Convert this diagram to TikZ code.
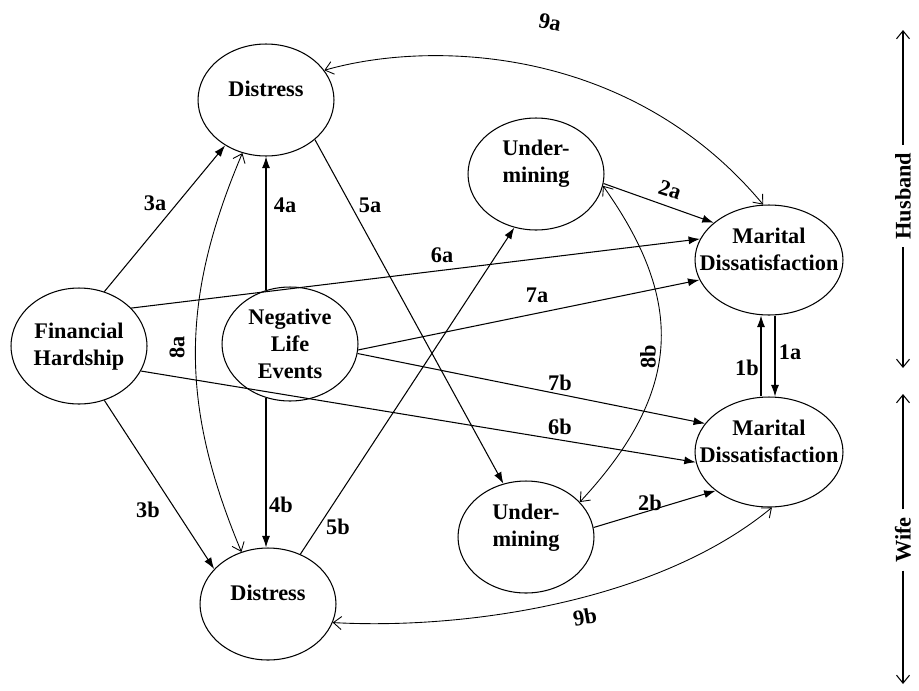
\documentclass[tikz,border=0pt]{standalone}
\usepackage{fontspec}
\setmainfont{Liberation Serif}
\usetikzlibrary{shapes.geometric,arrows.meta}
\begin{document}
\begin{tikzpicture}[x=0.02cm,y=-0.02cm,
  ell/.style={draw, ellipse, inner sep=0pt, minimum width=2.72cm, minimum height=2.24cm, line width=0.6pt},
  mell/.style={ell, minimum width=2.96cm, minimum height=2.2cm},
  txt/.style={font=\fontsize{12.7}{15.3}\selectfont\bfseries, align=center, inner sep=0pt},
  lab/.style={font=\fontsize{12.7}{15.3}\selectfont\bfseries, inner sep=0pt},
  sidet/.style={font=\fontsize{12.7}{15.3}\selectfont\bfseries, inner sep=0.15cm},
  pth/.style={line width=0.6pt, -{Latex[length=2.3mm,width=1.6mm]}},
  cor/.style={line width=0.5pt, {Straight Barb[length=1.6mm,width=2.6mm]}-{Straight Barb[length=1.6mm,width=2.6mm]}},
  side/.style={line width=0.6pt, -{Straight Barb[length=1.6mm,width=2.6mm]}},
]
\useasboundingbox (0,0) rectangle (919,690);

% ellipses
\node[ell] (dH) at (266,100) {};
\node[ell] (uH) at (536,174) {};
\node[mell] (mH) at (769,260) {};
\node[ell, minimum height=2.32cm] (FH) at (79,346) {};
\node[ell, minimum height=2.28cm] (NLE) at (290,344) {};
\node[mell] (mW) at (769,452) {};
\node[ell] (uW) at (526,537) {};
\node[ell] (dW) at (268,604) {};

% texts
\node[txt] (dHt) at (266,89) {Distress};
\node[txt] (uHt) at (536,164) {Under-\\mining};
\node[txt] (mHt) at (769,249) {Marital\\Dissatisfaction};
\node[txt] (FHt) at (79,347) {Financial\\Hardship};
\node[txt] (NLEt) at (290,344) {Negative\\Life\\Events};
\node[txt] (mWt) at (769,441) {Marital\\Dissatisfaction};
\node[txt] (uWt) at (526,528) {Under-\\mining};
\node[txt] (dWt) at (268,593) {Distress};

% direct paths
\draw[pth] (FH.65) -- (dH.228);
\draw[pth] (FH.-65) -- (dW.147);
\draw[pth] (NLE.114) -- (NLE.114 |- dH.south);
\draw[pth] (NLE.-114) -- (NLE.-114 |- dW.north);
\draw[pth] (dH.-39) -- (uW.113);
\draw[pth] (dW.57) -- (uH.248);
\draw[pth] (FH.36) -- (mH.163);
\draw[pth] (FH.-22) -- (mW.188);
\draw[pth] (NLE.-5) -- (mH.196);
\draw[pth] (NLE.-8) -- (mW.156);
\draw[pth] (uH.-8) -- (mH.146);
\draw[pth] (uW.8) -- (mW.216);
\draw[pth] ([xshift=0.12cm]mH.south) -- ([xshift=0.12cm]mW.north);
\draw[pth] ([xshift=-0.16cm]mW.north) -- ([xshift=-0.16cm]mH.south);

% correlations
\draw[cor] (dH.246) .. controls (180,300) and (180,405) .. (dW.117);
\draw[cor] (uH.-10) .. controls (684,300) and (684,390) .. (uW.33);
\draw[cor] (dH.27) .. controls (430,40) and (630,45) .. (mH.96);
\draw[cor] (dW.-16) .. controls (470,630) and (660,600) .. (mW.-87);

% labels
\node[lab] (l3a) at (155,203) {3a};
\node[lab] (l4a) at (285,205) {4a};
\node[lab] (l5a) at (370,205) {5a};
\node[lab] (l6a) at (442,255) {6a};
\node[lab] (l7a) at (537,295) {7a};
\node[lab] (l7b) at (560,383) {7b};
\node[lab] (l6b) at (560,427) {6b};
\node[lab, rotate=90] (l8a) at (177,347) {8a};
\node[lab, rotate=90] (l8b) at (648,357) {8b};
\node[lab] (l1a) at (790,352) {1a};
\node[lab] (l1b) at (747,368) {1b};
\node[lab, rotate=-18] (l2a) at (670,190) {2a};
\node[lab] (l2b) at (650,503) {2b};
\node[lab] (l3b) at (148,510) {3b};
\node[lab] (l4b) at (281,505) {4b};
\node[lab] (l5b) at (338,527) {5b};
\node[lab, rotate=-10] (l9a) at (550,22) {9a};
\node[lab, rotate=10] (l9b) at (585,617) {9b};

% side markers
\node[sidet, rotate=90] (hus) at (903,196) {Husband};
\coordinate (htop) at (903,30);
\coordinate (hbot) at (903,368);
\draw[side] (hus.east) -- (htop);
\draw[side] (hus.west) -- (hbot);
\node[sidet, rotate=90] (wif) at (903,540) {Wife};
\coordinate (wtop) at (903,394);
\coordinate (wbot) at (903,684);
\draw[side] (wif.east) -- (wtop);
\draw[side] (wif.west) -- (wbot);
\end{tikzpicture}
\end{document}
